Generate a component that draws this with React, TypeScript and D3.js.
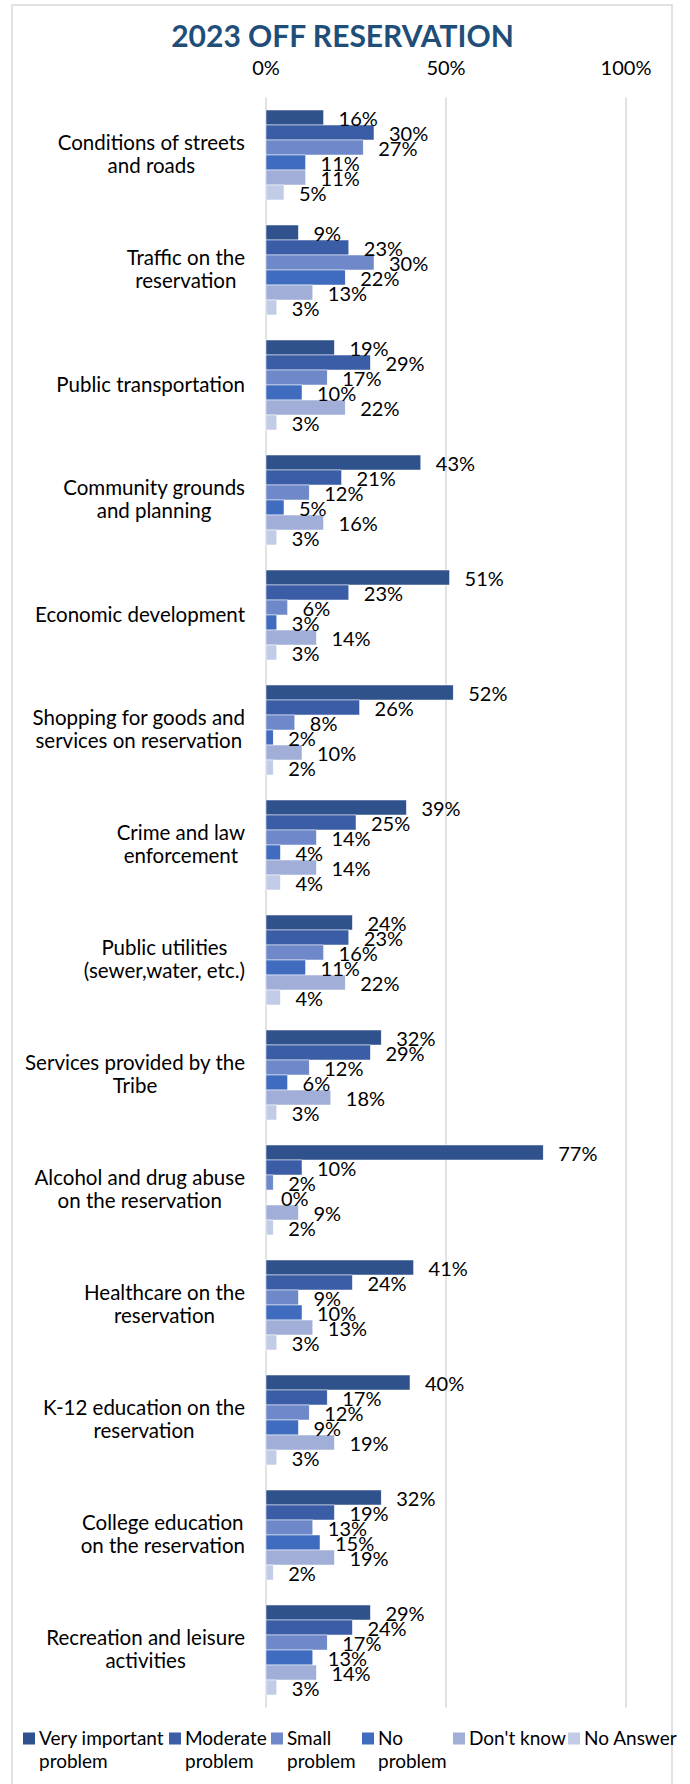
import React, { useEffect, useRef } from 'react';
import * as d3 from 'd3';

const title = '2023 OFF RESERVATION';

const categoryLines: string[][] = [
  ['Conditions of streets', 'and roads'],
  ['Traffic on the', 'reservation'],
  ['Public transportation'],
  ['Community grounds', 'and planning'],
  ['Economic development'],
  ['Shopping for goods and', 'services on reservation'],
  ['Crime and law', 'enforcement'],
  ['Public utilities', '(sewer,water, etc.)'],
  ['Services provided by the', 'Tribe'],
  ['Alcohol and drug abuse', 'on the reservation'],
  ['Healthcare on the', 'reservation'],
  ['K-12 education on the', 'reservation'],
  ['College education', 'on the reservation'],
  ['Recreation and leisure', 'activities'],
];
const categories = categoryLines.map((l) => l.join(' '));

const seriesNames = [
  'Very important problem',
  'Moderate problem',
  'Small problem',
  'No problem',
  "Don't know",
  'No Answer',
];
const legendLines: string[][] = [
  ['Very important', 'problem'],
  ['Moderate', 'problem'],
  ['Small', 'problem'],
  ['No', 'problem'],
  ["Don't know"],
  ['No Answer'],
];

const veryImportant = [16, 9, 19, 43, 51, 52, 39, 24, 32, 77, 41, 40, 32, 29];
const moderate = [30, 23, 29, 21, 23, 26, 25, 23, 29, 10, 24, 17, 19, 24];
const small = [27, 30, 17, 12, 6, 8, 14, 16, 12, 2, 9, 12, 13, 17];
const noProblem = [11, 22, 10, 5, 3, 2, 4, 11, 6, 0, 10, 9, 15, 13];
const dontKnow = [11, 13, 22, 16, 14, 10, 14, 22, 18, 9, 13, 19, 19, 14];
const noAnswer = [5, 3, 3, 3, 3, 2, 4, 4, 3, 2, 3, 3, 2, 3];
const seriesValues = [veryImportant, moderate, small, noProblem, dontKnow, noAnswer];

const tickValues = [0, 0.5, 1];
const colors = ['#2F518C', '#3A5DA6', '#6E88C9', '#3F6CBE', '#A0AED8', '#C3CCE7'];

const FONT = 'Lato, "Open Sans", sans-serif';

export default function App() {
  const ref = useRef<SVGSVGElement>(null);

  useEffect(() => {
    const svg = d3.select(ref.current);
    svg.selectAll('*').remove();
    const W = 690;
    const H = 1784;
    const plotTop = 97.5;
    const plotBottom = 1707.5;
    const x = d3.scaleLinear().domain([0, 1]).range([266, 626]);
    const y = d3
      .scaleBand<string>()
      .domain(categories)
      .range([plotTop, plotBottom])
      .paddingInner(25 / 115)
      .paddingOuter(12.5 / 115);
    const ySub = d3.scaleBand<string>().domain(seriesNames).range([0, y.bandwidth()]);

    svg.append('rect').attr('x', 0).attr('y', 0).attr('width', W).attr('height', H).attr('fill', '#fff');
    svg
      .append('rect')
      .attr('x', 12)
      .attr('y', 5)
      .attr('width', 660)
      .attr('height', H + 20)
      .attr('fill', 'none')
      .attr('stroke', '#D9D9D9')
      .attr('stroke-width', 1.5);

    // title
    svg
      .append('text')
      .attr('x', 342.5)
      .attr('y', 47)
      .attr('text-anchor', 'middle')
      .attr('font-family', FONT)
      .attr('font-weight', 'bold')
      .attr('font-size', 30)
      .attr('fill', '#1F4E79')
      .text(title);

    // gridlines
    svg
      .append('g')
      .selectAll('line')
      .data(tickValues)
      .join('line')
      .attr('x1', (d) => x(d))
      .attr('x2', (d) => x(d))
      .attr('y1', plotTop)
      .attr('y2', plotBottom)
      .attr('stroke', '#D9D9D9')
      .attr('stroke-width', 1.5);

    // tick labels
    svg
      .append('g')
      .selectAll('text')
      .data(tickValues)
      .join('text')
      .attr('x', (d) => x(d))
      .attr('y', 75)
      .attr('text-anchor', 'middle')
      .attr('font-family', FONT)
      .attr('font-size', 20)
      .attr('fill', '#000')
      .text((d) => d3.format('.0%')(d));

    // bars
    const groups = svg
      .append('g')
      .selectAll('g')
      .data(categories)
      .join('g')
      .attr('transform', (d) => `translate(0,${y(d)})`);

    groups.each(function (cat, ci) {
      const g = d3.select(this);
      const rows = seriesNames.map((s, si) => ({ s, si, v: seriesValues[si][ci] / 100 }));
      g.selectAll('rect')
        .data(rows)
        .join('rect')
        .attr('x', x(0))
        .attr('y', (d) => ySub(d.s)!)
        .attr('width', (d) => x(d.v) - x(0))
        .attr('height', ySub.bandwidth())
        .attr('fill', (d) => colors[d.si])
        .attr('stroke', '#fff')
        .attr('stroke-width', 0.5);
      g.selectAll('text.lbl')
        .data(rows)
        .join('text')
        .attr('class', 'lbl')
        .attr('x', (d) => x(d.v) + 15)
        .attr('y', (d) => ySub(d.s)! + ySub.bandwidth() / 2 + 8)
        .attr('font-family', FONT)
        .attr('font-size', 20)
        .attr('fill', '#000')
        .text((d) => d3.format('.0%')(d.v));
    });

    // category labels
    const labelRight = 245;
    const lineH = 23.4;
    categoryLines.forEach((lines, ci) => {
      const cy = y(categories[ci])! + y.bandwidth() / 2;
      const g = svg.append('g');
      const texts = lines.map((ln, li) =>
        g
          .append('text')
          .attr('y', cy + 6.5 + (li - (lines.length - 1) / 2) * lineH)
          .attr('text-anchor', 'middle')
          .attr('font-family', FONT)
          .attr('font-size', 20.5)
          .attr('fill', '#000')
          .text(ln)
      );
      const widths = texts.map((t) => (t.node() as SVGTextElement).getComputedTextLength());
      const bw = Math.max(...widths);
      texts.forEach((t) => t.attr('x', labelRight - bw / 2));
    });

    // legend
    const legendTextX = [39, 185, 287, 378, 469, 584];
    legendLines.forEach((lines, i) => {
      const lx = legendTextX[i];
      svg
        .append('rect')
        .attr('x', lx - 16)
        .attr('y', 1732.5)
        .attr('width', 12)
        .attr('height', 12)
        .attr('fill', colors[i]);
      lines.forEach((ln, li) => {
        svg
          .append('text')
          .attr('x', lx)
          .attr('y', 1745 + li * 23.4)
          .attr('font-family', FONT)
          .attr('font-size', 19)
          .attr('fill', '#000')
          .text(ln);
      });
    });
  }, []);

  return (
    <svg
      ref={ref}
      width={690}
      height={1784}
      style={{ position: 'absolute', left: 0, top: 0, display: 'block' }}
    />
  );
}
